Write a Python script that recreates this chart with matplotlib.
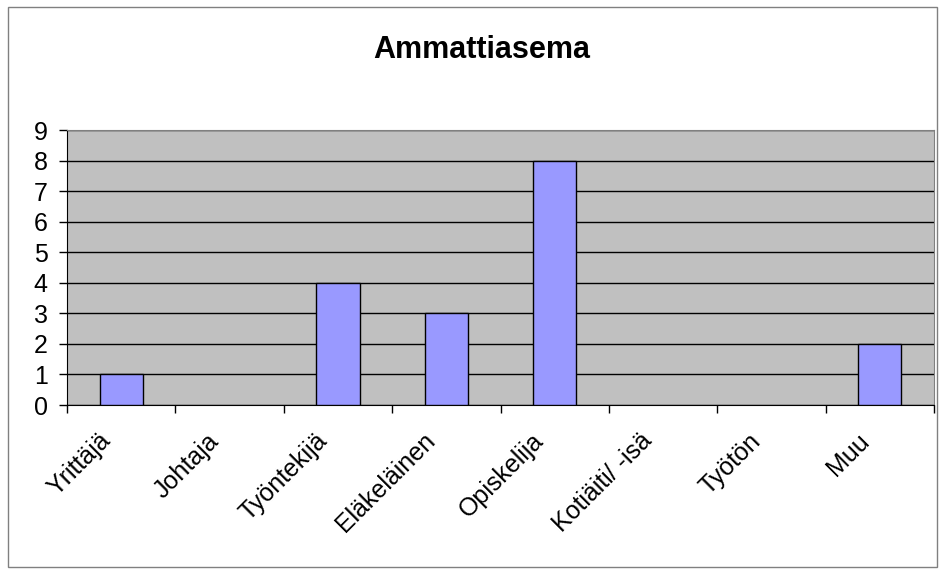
#### imports

import matplotlib
matplotlib.use("Agg")
import matplotlib.pyplot as plt
from matplotlib.patches import Rectangle

#### data

categories = ["Yrittäjä", "Johtaja", "Työntekijä", "Eläkeläinen",
              "Opiskelija", "Kotiäiti/ -isä", "Työtön", "Muu"]
counts = [1, 0, 4, 3, 8, 0, 0, 2]
y_ticks = list(range(0, 10))

#### plot

plt.rcParams['font.family'] = ['Liberation Sans', 'DejaVu Sans']

fig = plt.figure(figsize=(9.4, 5.69), dpi=100)
ax = fig.add_axes([0.0713, 0.2882, 0.9223, 0.4833])

# outer chart border
fig.patches.append(Rectangle((0.009, 0.004), 0.988, 0.984, transform=fig.transFigure,
                             fill=False, edgecolor='#808080', linewidth=1))

# empty categories get no outline (Excel draws nothing there)
edges = ['black' if c > 0 else 'none' for c in counts]
x = range(len(categories))
ax.bar(x, counts, width=0.4, color='#9999FF', edgecolor=edges, linewidth=1, zorder=3)

ax.set_facecolor('#C0C0C0')
ax.set_xlim(-0.5, len(categories) - 0.5)
ax.set_ylim(0, 9)
ax.set_yticks(y_ticks)
ax.yaxis.grid(True, color='black', linewidth=1, zorder=1)
ax.set_axisbelow(True)

# category ticks sit between the bars
ax.set_xticks([i - 0.5 for i in range(len(categories) + 1)])
ax.set_xticklabels([])
ax.tick_params(axis='x', length=6, width=1, direction='out')
ax.tick_params(axis='y', length=6, width=1, direction='out', labelsize=18, pad=8)

for i, name in enumerate(categories):
    ax.annotate(name, xy=(i, 0), xycoords='data', xytext=(-4.5, -17),
                textcoords='offset points', rotation=45, ha='right', va='top',
                fontsize=18)

for side in ['top', 'right']:
    ax.spines[side].set_color('#808080')
for side in ['left', 'bottom']:
    ax.spines[side].set_color('black')

fig.text(0.512, 0.912, "Ammattiasema", ha='center', va='center',
         fontsize=22, fontweight='bold')

fig.savefig("out.png", dpi=100)
